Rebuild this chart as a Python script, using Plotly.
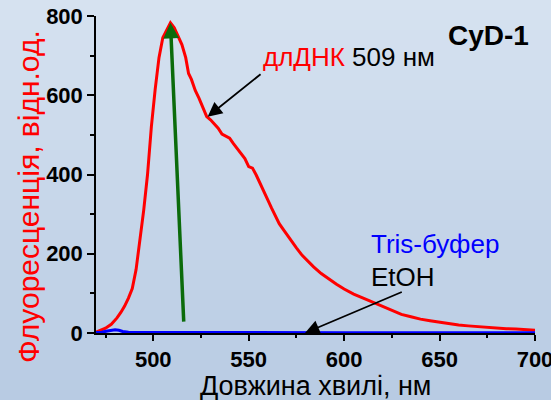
import plotly.graph_objects as go

# Fluorescence emission spectra of CyD-1
dna_nm = [470, 472, 475, 478, 481, 483, 485, 487, 489, 491, 493, 495, 497, 499,
          501, 503, 505, 507, 509, 511, 513, 515, 517, 518.5, 520, 522, 524, 526,
          528, 530, 532, 534, 536, 538, 540, 542, 544, 546, 548, 550, 552, 554,
          556, 558, 560, 562, 564, 566, 568, 570, 572, 575, 578, 581, 584, 588,
          592, 596, 600, 605, 610, 615, 620, 625, 630, 635, 640, 645, 650, 655,
          660, 665, 670, 675, 680, 685, 690, 695, 700]
dna_int = [2, 6, 12, 22, 38, 52, 68, 88, 112, 160, 230, 310, 400, 520,
           615, 695, 745, 765, 783, 770, 750, 728, 695, 655, 640, 612, 592, 568,
           546, 538, 528, 517, 502, 498, 492, 478, 466, 452, 440, 420, 416, 398,
           378, 360, 336, 315, 294, 276, 262, 248, 234, 215, 196, 181, 167, 150,
           136, 123, 111, 98, 88, 78, 66, 56, 47, 41, 35, 31, 27, 23,
           20, 18, 16, 14, 13, 11, 10, 9, 7]

buf_nm = [470, 473, 476, 478, 480, 482, 484, 487, 490, 500, 520, 550, 600, 650, 700]
buf_int = [1, 2, 5, 7, 8, 7, 4, 2, 1, 1, 0.5, 1, 0.5, 1, 0.5]

x_range = [470, 700]
y_range = [0, 800]

W, H = 551, 400
M_L, M_R, M_T, M_B = 96, 16, 16, 67

font_family = "Liberation Sans, Arial, sans-serif"

fig = go.Figure()
fig.add_trace(go.Scatter(x=dna_nm, y=dna_int, mode="lines",
                         line=dict(color="#ff0000", width=3), showlegend=False))
fig.add_trace(go.Scatter(x=buf_nm, y=buf_int, mode="lines",
                         line=dict(color="#0000ff", width=3), showlegend=False))

# soft vertical background gradient over the whole figure
plot_h = H - M_T - M_B
plot_w = W - M_L - M_R
shapes = []
n_strips = 40
top_rgb = (214, 226, 240)
bot_rgb = (184, 203, 227)
for i in range(n_strips):
    f = (i + 0.5) / n_strips
    c = tuple(round(top_rgb[k] + (bot_rgb[k] - top_rgb[k]) * f) for k in range(3))
    py0 = i * H / n_strips
    py1 = (i + 1) * H / n_strips + 1
    y0 = 1 - (py0 - M_T) / plot_h
    y1 = 1 - (py1 - M_T) / plot_h
    shapes.append(dict(type="rect", xref="paper", yref="paper",
                       x0=-1, x1=2, y0=y1, y1=y0, layer="below",
                       line=dict(width=0), fillcolor="rgb(%d,%d,%d)" % c))


def px_to_paper(px, py):
    """Figure pixel position -> paper coordinates."""
    return (px - M_L) / plot_w, 1 - (py - M_T) / plot_h


tick_font = dict(family=font_family, size=22, color="black", weight="bold")

fig.update_layout(
    width=W, height=H,
    margin=dict(l=M_L, r=M_R, t=M_T, b=M_B, autoexpand=False),
    paper_bgcolor="rgb(200,214,233)",
    plot_bgcolor="rgba(0,0,0,0)",
    shapes=shapes,
    xaxis=dict(range=x_range, dtick=50, tick0=500, ticks="outside", ticklen=6,
               tickwidth=1.5, tickcolor="black", showline=True, linecolor="black",
               linewidth=1.5, showgrid=False, zeroline=False, tickfont=tick_font,
               ticklabeloverflow="allow", automargin=False,
               minor=dict(dtick=25, tick0=475, ticks="outside", ticklen=3,
                          tickcolor="black", tickwidth=1.5)),
    yaxis=dict(range=y_range, dtick=200, ticks="outside", ticklen=7,
               tickwidth=1.5, tickcolor="black", showline=True, linecolor="black",
               linewidth=1.5, showgrid=False, zeroline=False, tickfont=tick_font,
               ticklabeloverflow="allow", automargin=False,
               minor=dict(dtick=100, ticks="outside", ticklen=4,
                          tickcolor="black", tickwidth=1.5)),
    xaxis2=dict(range=x_range, overlaying="x", side="top", dtick=25, tick0=475,
                ticks="inside", ticklen=5, tickwidth=1.5, tickcolor="black",
                showline=True, linecolor="black", linewidth=1.5, automargin=False,
                showticklabels=False, showgrid=False, zeroline=False),
    yaxis2=dict(range=y_range, overlaying="y", side="right", dtick=100,
                ticks="inside", ticklen=5, tickwidth=1.5, tickcolor="black",
                showline=True, linecolor="black", linewidth=1.5, automargin=False,
                showticklabels=False, showgrid=False, zeroline=False),
)

xt_x, xt_y = px_to_paper(315.5, 386)
yt_x, yt_y = px_to_paper(28, 197)

ann_font = dict(family=font_family, size=26, color="black")
annotations = [
    # axis titles
    dict(x=xt_x, y=xt_y, xref="paper", yref="paper", xanchor="center",
         yanchor="middle", text="Довжина хвилі, нм", showarrow=False,
         font=dict(family=font_family, size=27, color="black")),
    dict(x=yt_x, y=yt_y, xref="paper", yref="paper", xanchor="center",
         yanchor="middle", text="Флуоресценція, відн.од.", textangle=-90,
         showarrow=False, font=dict(family=font_family, size=30, color="#ff0000")),
    # labels inside the plot
    dict(x=556.5, y=697, xref="x", yref="y", xanchor="left", yanchor="middle",
         text="<span style='color:#ff0000'>длДНК</span> 509 нм",
         showarrow=False, font=ann_font),
    dict(x=698, y=752, xref="x", yref="y", xanchor="right", yanchor="middle",
         text="<b>CyD-1</b>", showarrow=False,
         font=dict(family=font_family, size=28, color="black")),
    dict(x=613, y=225, xref="x", yref="y", xanchor="left", yanchor="middle",
         text="Tris-буфер", showarrow=False,
         font=dict(family=font_family, size=26, color="#0000ff")),
    dict(x=613, y=142, xref="x", yref="y", xanchor="left", yanchor="middle",
         text="EtOH", showarrow=False, font=ann_font),
    # arrow to the DNA emission band
    dict(x=528.5, y=546, ax=557, ay=656, xref="x", yref="y", axref="x", ayref="y",
         text="", showarrow=True, arrowhead=2, arrowsize=1.6, arrowwidth=1.8,
         arrowcolor="black"),
    # arrow to the buffer / ethanol baseline
    dict(x=579.5, y=0, ax=631, ay=105, xref="x", yref="y", axref="x", ayref="y",
         text="", showarrow=True, arrowhead=2, arrowsize=1.6, arrowwidth=1.8,
         arrowcolor="black"),
    # intensity increase arrow
    dict(x=509, y=783, ax=516, ay=25, xref="x", yref="y", axref="x", ayref="y",
         text="", showarrow=True, arrowhead=2, arrowsize=0.9, arrowwidth=3.5,
         arrowcolor="#0b6b0b"),
]
fig.update_layout(annotations=annotations)

fig.write_html("out.html")
